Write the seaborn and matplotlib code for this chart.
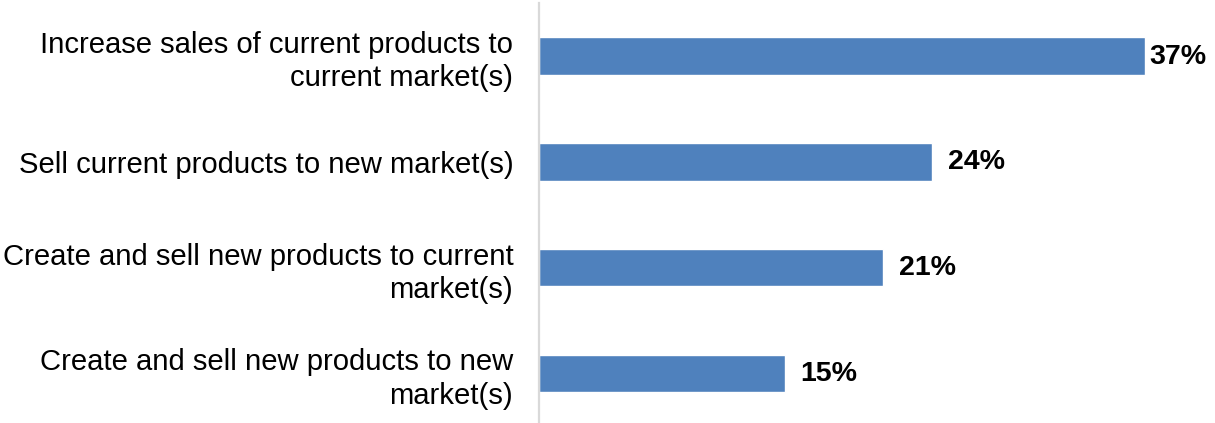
import matplotlib
matplotlib.use("Agg")
import matplotlib.pyplot as plt
import seaborn as sns
import pandas as pd

# Growth strategy shares (percent of respondents)
strategies = [
    "Increase sales of current products to\ncurrent market(s)",
    "Sell current products to new market(s)",
    "Create and sell new products to current\nmarket(s)",
    "Create and sell new products to new\nmarket(s)",
]
shares = [37, 24, 21, 15]
share_labels = ["37%", "24%", "21%", "15%"]

df = pd.DataFrame({"strategy": strategies, "share": shares})

sns.set_theme(style="white")
plt.rcParams["font.family"] = ["Liberation Sans", "DejaVu Sans"]

fig = plt.figure(figsize=(12.15, 4.23), dpi=100)
ax = fig.add_axes([0.4436, -0.008, 0.5564, 1.001])

sns.barplot(data=df, x="share", y="strategy", orient="h", color="#4F81BD",
            saturation=1, width=0.356, ax=ax)

ax.set_xlim(0, 41.27)
ax.set_xlabel("")
ax.set_ylabel("")
ax.set_xticks([])
for side in ("top", "right", "bottom"):
    ax.spines[side].set_visible(False)
ax.spines["left"].set_color("#d9d9d9")
ax.spines["left"].set_linewidth(1.6)
ax.tick_params(axis="y", length=0, pad=18.5, labelsize=21.1, labelcolor="black")
for lbl in ax.get_yticklabels():
    lbl.set_linespacing(1.23)

# value labels to the right of each bar, kept inside the figure
fig.canvas.draw()
renderer = fig.canvas.get_renderer()
fig_right = fig.bbox.x1 - 9
for patch, text in zip(ax.patches, share_labels):
    x_end = patch.get_x() + patch.get_width()
    yc = patch.get_y() + patch.get_height() / 2
    t = ax.annotate(text, xy=(x_end, yc), xytext=(11.5, -0.5), textcoords="offset points",
                    ha="left", va="center", fontsize=20.5, fontweight="bold",
                    color="black")
    bb = t.get_window_extent(renderer)
    if bb.x1 > fig_right:
        shift = (bb.x1 - fig_right) * 72 / fig.dpi
        t.set_position((max(11.5 - shift, 3), -0.5))

fig.savefig("out.png", dpi=100)
